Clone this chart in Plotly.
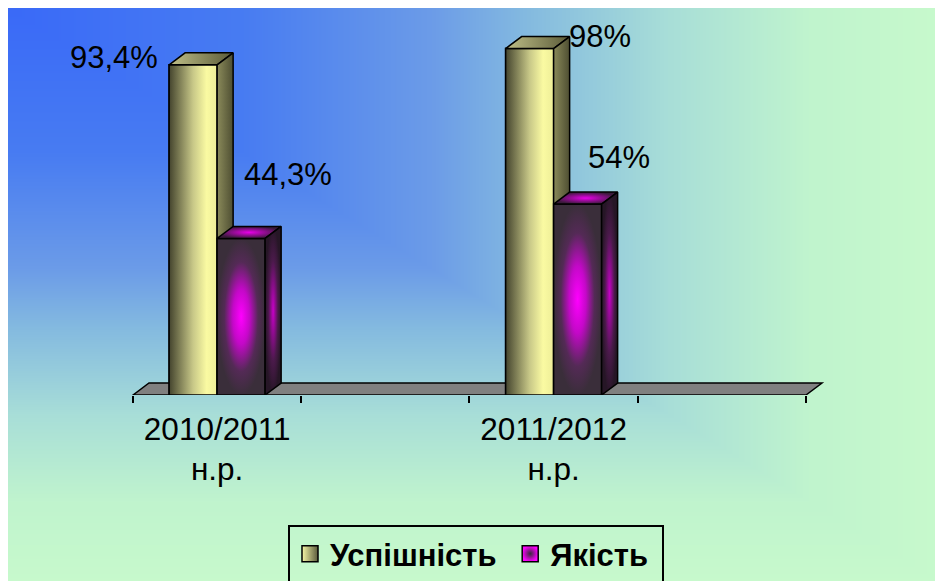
import base64
import struct
import zlib

import numpy as np
import plotly.graph_objects as go

# ---------------- data ----------------
categories = ["2010/2011<br>н.р.", "2011/2012<br>н.р."]
series_names = ["Успішність", "Якість"]
uspishnist = [93.4, 98]
yakist = [44.3, 54]
series_values = [uspishnist, yakist]

# ---------------- geometry / style ----------------
W, H = 943, 581
PX_PER_CAT = 168.25          # pixels per category slot
X0_PX = 125                  # figure pixel of left boundary (x=-0.5)
PX_PER_UNIT_Y = 3.535
Y0_PX = 387                  # figure pixel of y = 0
XR = [-0.55, 3.65]
YR = [0, 105]

BAR_W = 48 / PX_PER_CAT
DX = 16 / PX_PER_CAT         # depth offset (x units)
DY = 12 / PX_PER_UNIT_Y      # depth offset (y units)
FONT = "Liberation Sans, Arial, sans-serif"

xd0 = (X0_PX + (XR[0] + 0.5) * PX_PER_CAT) / W
xd1 = (X0_PX + (XR[1] + 0.5) * PX_PER_CAT) / W
yd0 = (H - Y0_PX) / H
yd1 = (H - (Y0_PX - YR[1] * PX_PER_UNIT_Y)) / H

cat_pos = [2 * i for i in range(len(categories))]   # blank slot after each year
n_slots = 2 * len(categories)


# ---------------- background gradient (from corner) ----------------
def make_png(arr):
    h, w, _ = arr.shape
    a = arr.astype(np.int16)
    filt = a.copy()
    filt[:, 1:, :] = (a[:, 1:, :] - a[:, :-1, :]) % 256
    filt = filt.astype(np.uint8)
    raw = b"".join(b"\x01" + filt[r].tobytes() for r in range(h))

    def chunk(tag, data):
        return (struct.pack(">I", len(data)) + tag + data
                + struct.pack(">I", zlib.crc32(tag + data) & 0xFFFFFFFF))

    return (b"\x89PNG\r\n\x1a\n"
            + chunk(b"IHDR", struct.pack(">IIBBBBB", w, h, 8, 2, 0, 0, 0))
            + chunk(b"IDAT", zlib.compress(raw, 9))
            + chunk(b"IEND", b""))


bw, bh = W, H
xx = np.arange(bw)[None, :] / (bw - 1)
yy = np.arange(bh)[:, None] / (bh - 1)
t = np.maximum(xx, yy)
stops = [0.0, 0.25, 0.45, 0.55, 0.7, 0.85, 1.0]
cols = np.array([
    (58, 106, 248), (72, 124, 242), (108, 156, 232), (132, 186, 224),
    (168, 222, 216), (192, 244, 206), (200, 250, 204)], dtype=float)
img = np.zeros((bh, bw, 3), dtype=np.uint8)
for c in range(3):
    img[:, :, c] = np.clip(np.interp(t, stops, cols[:, c]), 0, 255).astype(np.uint8)
bg_uri = "data:image/png;base64," + base64.b64encode(make_png(img)).decode()

# ---------------- styles per series ----------------
front_grad = [
    dict(type="horizontal", colorscale=[[0, "#44442e"], [0.5, "#c8c888"], [0.78, "#fafaa2"], [1, "#eeee98"]]),
    dict(type="radial", colorscale=[[0, "#ff00ff"], [0.35, "#c408c8"], [0.7, "#542a56"], [1, "#3a2e3a"]]),
]
top_grad = [
    dict(type="horizontal", colorscale=[[0, "#c0c088"], [1, "#5a5a38"]]),
    dict(type="radial", colorscale=[[0, "#e800e8"], [1, "#3a1a3a"]]),
]
side_grad = [
    dict(type="horizontal", colorscale=[[0, "#8a8a5a"], [1, "#4e4e32"]]),
    dict(type="radial", colorscale=[[0, "#c800c8"], [0.6, "#4a1a4a"], [1, "#261626"]]),
]
bar_colors = ["#e8e8a0", "#7a207a"]
legend_marker = [
    dict(color="#f6f6a6", gradient=dict(type="horizontal", color="#5a5a3c")),
    dict(color="#ff00ff", gradient=dict(type="radial", color="#3a2a3a")),
]
offsets = [-BAR_W, 0.0]
label_shift_px = [[(-79, 7), (70, 12)], [(47, 64), (41, 47)]]

fig = go.Figure()

# real bars (front faces)
for s, (name, vals) in enumerate(zip(series_names, series_values)):
    fig.add_trace(go.Bar(
        x=cat_pos, y=vals, width=BAR_W, offset=offsets[s], name=name,
        marker=dict(color=bar_colors[s], line=dict(color="black", width=1.5)),
        showlegend=False, hoverinfo="skip"))


def face(xs, ys, grad):
    fig.add_trace(go.Scatter(
        x=xs, y=ys, mode="lines", fill="toself", fillgradient=grad,
        line=dict(color="black", width=1.5), showlegend=False, hoverinfo="skip"))


# 3-D faces drawn over the bars, left to right
for i, cx in enumerate(cat_pos):
    for s, vals in enumerate(series_values):
        v = vals[i]
        xl = cx + offsets[s]
        xr = xl + BAR_W
        face([xl, xl, xr, xr, xl], [0, v, v, 0, 0], front_grad[s])
        face([xl, xl + DX, xr + DX, xr, xl], [v, v + DY, v + DY, v, v], top_grad[s])
        face([xr, xr + DX, xr + DX, xr, xr], [0, DY, v + DY, v, 0], side_grad[s])

# legend entries
for s, name in enumerate(series_names):
    fig.add_trace(go.Scatter(
        x=[None], y=[None], mode="markers", name=f"<b>{name}</b>&nbsp;",
        marker=dict(symbol="square", size=17, line=dict(color="black", width=1.5),
                    **legend_marker[s])))

# value labels
annotations = []
for s, vals in enumerate(series_values):
    for i, v in enumerate(vals):
        txt = f"{v:g}".replace(".", ",") + "%"
        dxp, dyp = label_shift_px[s][i]
        annotations.append(dict(
            x=cat_pos[i] + offsets[s] + BAR_W / 2, y=v, xref="x", yref="y",
            text=txt, showarrow=False, xshift=dxp, yshift=dyp,
            font=dict(family=FONT, size=31, color="black")))

# floor
fl0, fl1 = -0.5, n_slots - 0.5
floor_path = (f"M {fl0},0 L {fl0 + DX},{DY} L {fl1 + DX},{DY} L {fl1},0 Z")

fig.update_layout(
    width=W, height=H,
    margin=dict(l=0, r=0, t=0, b=0),
    paper_bgcolor="white",
    plot_bgcolor="rgba(0,0,0,0)",
    barmode="overlay",
    font=dict(family=FONT, size=30, color="black"),
    images=[dict(source=bg_uri, xref="paper", yref="paper",
                 x=0, y=1, sizex=1, sizey=1,
                 xanchor="left", yanchor="top", sizing="stretch", layer="below")],
    shapes=[dict(type="path", path=floor_path, xref="x", yref="y",
                 fillcolor="#808080", line=dict(color="black", width=1.5),
                 layer="below")],
    annotations=annotations,
    xaxis=dict(domain=[xd0, xd1], range=XR, showgrid=False, zeroline=False,
               showline=False, tickmode="array", tickvals=cat_pos,
               ticktext=categories, ticks="", ticklabelstandoff=12,
               tickfont=dict(family=FONT, size=31.5, color="black"),
               minor=dict(tickmode="array",
                          tickvals=[k - 0.5 for k in range(n_slots + 1)],
                          ticks="outside", ticklen=7, tickwidth=1.5,
                          tickcolor="black", showgrid=False),
               fixedrange=True),
    yaxis=dict(domain=[yd0, yd1], range=YR, visible=False, fixedrange=True),
    legend=dict(orientation="h", x=280 / W, y=1 - 517 / H, xanchor="left",
                yanchor="top", bgcolor="rgba(0,0,0,0)", bordercolor="black",
                borderwidth=2, font=dict(family=FONT, size=31, color="black"),
                itemsizing="trace"),
)

fig.write_html("out.html")
